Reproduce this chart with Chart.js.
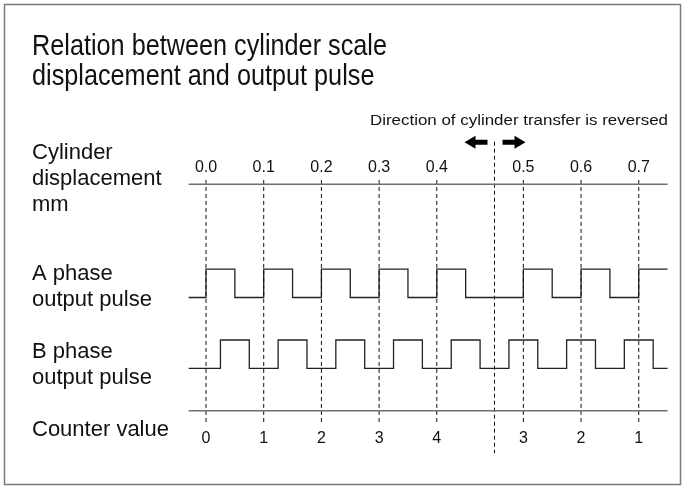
<!DOCTYPE html>
<html>
<head>
<meta charset="utf-8">
<script src="https://cdn.jsdelivr.net/npm/chart.js@4.4.0/dist/chart.umd.min.js"></script>
<style>
  html, body { margin: 0; background: #fff; }
  canvas { display: block; }
</style>
</head>
<body>
<canvas id="chart" width="686" height="486"></canvas>
<script>
// timing axis: one unit = one scale pitch (0.1 mm)
const displacementLabels = ['0.0', '0.1', '0.2', '0.3', '0.4', '0.5', '0.6', '0.7'];
const counterValues = [0, 1, 2, 3, 4, 3, 2, 1];
const gridPositions = [0, 1, 2, 3, 4, 5.5, 6.5, 7.5];
const reversalAt = 5;

const aPhaseEdges  = [-0.3, 0, 0.5, 1, 1.5, 2, 2.5, 3, 3.5, 4, 4.5, 5.5, 6, 6.5, 7, 7.5, 8];
const aPhaseLevels = [0, 1, 0, 1, 0, 1, 0, 1, 0, 1, 0, 1, 0, 1, 0, 1, 1];
const bPhaseEdges  = [-0.3, 0.25, 0.75, 1.25, 1.75, 2.25, 2.75, 3.25, 3.75, 4.25, 4.75, 5.25, 5.75, 6.25, 6.75, 7.25, 7.75, 8];
const bPhaseLevels = [0, 1, 0, 1, 0, 1, 0, 1, 0, 1, 0, 1, 0, 1, 0, 1, 0, 0];

const xRange = [-0.3, 8];

// vertical layout of the rows (y scale units)
const rows = { disp: 8.5, aBase: 4.5, bBase: 2, counter: 0.5, gridTop: 8.65, gridBottom: 0.1, revTop: 10, revBottom: -1 };

const FONT = '"Liberation Sans", Arial, Helvetica, sans-serif';

function pulse(edges, levels, base) {
  return edges.map((e, i) => ({ x: e, y: base + levels[i] }));
}

function hline(yv, color) {
  return {
    data: [{ x: xRange[0], y: yv }, { x: xRange[1], y: yv }],
    borderColor: color, borderWidth: 1.5, pointRadius: 0, clip: false
  };
}

function vline(xv, top, bottom) {
  return {
    data: [{ x: xv, y: top }, { x: xv, y: bottom }],
    borderColor: '#111', borderWidth: 1, borderDash: [4, 3], pointRadius: 0, clip: false
  };
}

const datasets = [
  hline(rows.disp, '#6e6e6e'),
  hline(rows.counter, '#6e6e6e'),
  ...gridPositions.map(p => vline(p, rows.gridTop, rows.gridBottom)),
  vline(reversalAt, rows.revTop, rows.revBottom),
  {
    label: 'A phase',
    data: pulse(aPhaseEdges, aPhaseLevels, rows.aBase),
    stepped: 'before', borderColor: '#222', borderWidth: 1.3, pointRadius: 0, clip: false
  },
  {
    label: 'B phase',
    data: pulse(bPhaseEdges, bPhaseLevels, rows.bBase),
    stepped: 'before', borderColor: '#222', borderWidth: 1.3, pointRadius: 0, clip: false
  }
];

function squeezeText(ctx, str, x, y, size, width) {
  ctx.font = size + 'px ' + FONT;
  const w = ctx.measureText(str).width;
  ctx.save();
  ctx.translate(x, y);
  ctx.scale(width / w, 1);
  ctx.fillText(str, 0, 0);
  ctx.restore();
}

function arrow(ctx, tail, tip, cy) {
  const dir = Math.sign(tip - tail);
  const head = 11;
  ctx.beginPath();
  ctx.moveTo(tail, cy - 2.5);
  ctx.lineTo(tip - dir * head, cy - 2.5);
  ctx.lineTo(tip - dir * head, cy - 6.5);
  ctx.lineTo(tip, cy);
  ctx.lineTo(tip - dir * head, cy + 6.5);
  ctx.lineTo(tip - dir * head, cy + 2.5);
  ctx.lineTo(tail, cy + 2.5);
  ctx.closePath();
  ctx.fill();
}

const overlay = {
  id: 'overlay',
  afterDraw(chart) {
    const { ctx, scales: { x, y } } = chart;
    ctx.save();

    ctx.strokeStyle = '#7a7a7a';
    ctx.lineWidth = 1.5;
    ctx.strokeRect(4.5, 4.5, 676, 480);

    ctx.fillStyle = '#111';
    ctx.textAlign = 'left';
    ctx.textBaseline = 'alphabetic';

    // title, a bit narrower than the plain font
    ctx.font = '30px ' + FONT;
    const sx = 355 / ctx.measureText('Relation between cylinder scale').width;
    ctx.save();
    ctx.translate(32, 0);
    ctx.scale(sx, 1);
    ctx.fillText('Relation between cylinder scale', 0, 55);
    ctx.fillText('displacement and output pulse', 0, 85);
    ctx.restore();

    squeezeText(ctx, 'Direction of cylinder transfer is reversed', 370, 125, 15, 298);

    ctx.font = '22px ' + FONT;
    const left = [
      ['Cylinder', 159], ['displacement', 185], ['mm', 211],
      ['A phase', 280], ['output pulse', 306],
      ['B phase', 358], ['output pulse', 384],
      ['Counter value', 436]
    ];
    left.forEach(([t, by]) => ctx.fillText(t, 32, by));

    ctx.font = '16px ' + FONT;
    ctx.textAlign = 'center';
    gridPositions.forEach((p, i) => {
      const px = x.getPixelForValue(p);
      ctx.fillText(displacementLabels[i], px, 171.5);
      ctx.fillText(String(counterValues[i]), px, 442.5);
    });

    // direction arrows either side of the reversal line
    const rx = x.getPixelForValue(reversalAt);
    const ay = y.getPixelForValue(rows.revTop) + 0.5;
    ctx.fillStyle = '#000';
    arrow(ctx, rx - 7, rx - 30, ay);
    arrow(ctx, rx + 8, rx + 31, ay);

    ctx.restore();
  }
};

new Chart(document.getElementById('chart'), {
  type: 'line',
  data: { datasets },
  options: {
    responsive: false,
    animation: false,
    events: [],
    layout: { padding: { left: 188.7, right: 18.4, top: 141.7, bottom: 32.7 } },
    scales: {
      x: { type: 'linear', min: xRange[0], max: xRange[1], display: false },
      y: { type: 'linear', min: rows.revBottom, max: rows.revTop, display: false }
    },
    plugins: { legend: { display: false }, tooltip: { enabled: false } }
  },
  plugins: [overlay]
});
</script>
</body>
</html>
